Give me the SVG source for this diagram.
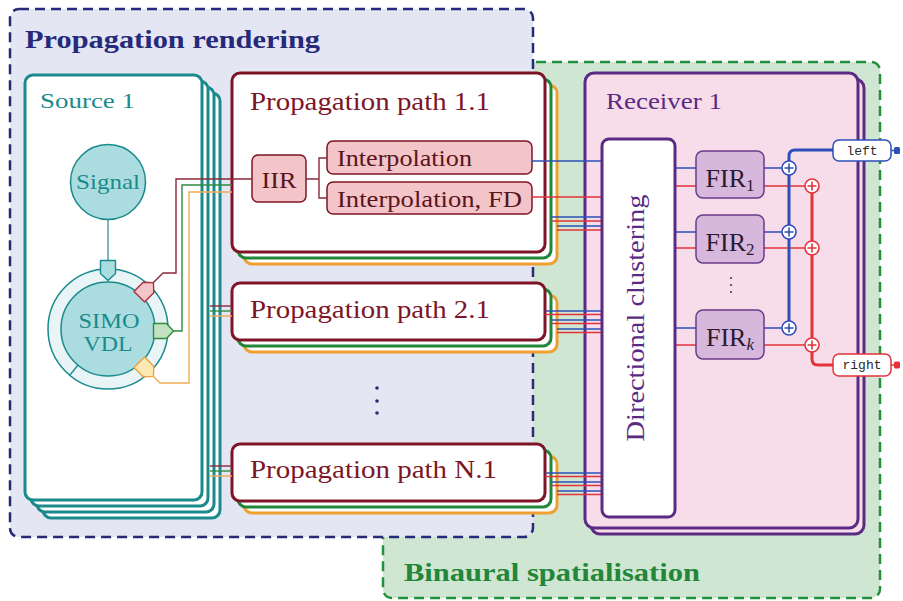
<svg xmlns="http://www.w3.org/2000/svg" width="903" height="601" viewBox="0 0 903 601">
<defs>
<style>
.t{font-family:"Liberation Serif","Times New Roman",serif}
.tb{font-family:"Liberation Serif","Times New Roman",serif;font-weight:bold;font-size:26px}
.srcL{fill:#ffffff;stroke:#1b8a8c;stroke-width:3}
.pM{fill:#ffffff;stroke:#7d1526;stroke-width:3}
.pG{fill:#ffffff;stroke:#22873a;stroke-width:3}
.pO{fill:#ffffff;stroke:#f0a030;stroke-width:3}
.rcv{fill:#f7dcea;stroke:#5b2a83;stroke-width:3}
.pink{fill:#f3c5c8;stroke:#7d1526;stroke-width:1.5}
.fir{fill:#d8b7dc;stroke:#6a3a8a;stroke-width:1.5}
.bl{stroke:#2c4fb8;stroke-width:1.4;fill:none}
.rd{stroke:#e2333b;stroke-width:1.4;fill:none}
.mr{stroke:#8a2a38;stroke-width:1.4;fill:none}
.gr{stroke:#2e8b40;stroke-width:1.4;fill:none}
.or{stroke:#efaa55;stroke-width:1.4;fill:none}
.lbl{font-family:"Liberation Mono","Courier New",monospace;font-size:13px;fill:#2a2a2a}
</style>
<path id="port" d="M-9.5,-7.5 H3.5 L10.5,0 L3.5,7.5 H-9.5 Z" stroke-linejoin="round"/>
<g id="plus"><circle r="7"/><path d="M-4.5,0H4.5M0,-4.5V4.5" fill="none"/></g>
</defs>

<rect x="0" y="0" width="903" height="601" fill="#ffffff"/>

<g id="binaural-region">
<rect x="383" y="62" width="497" height="536" rx="9" fill="#cfe7d2" stroke="#23903c" stroke-width="2.5" stroke-dasharray="10,6"/>
<text class="tb" x="404" y="581" fill="#23863a" textLength="296" lengthAdjust="spacingAndGlyphs">Binaural spatialisation</text>
</g>

<g id="propagation-region">
<rect x="10" y="9" width="523" height="528" rx="9" fill="#e4e6f3" stroke="#262a78" stroke-width="2.5" stroke-dasharray="10,6"/>
<text class="tb" x="25" y="48" fill="#262a78" textLength="295" lengthAdjust="spacingAndGlyphs">Propagation rendering</text>
<circle cx="377" cy="388" r="1.8" fill="#262a78"/>
<circle cx="377" cy="401" r="1.8" fill="#262a78"/>
<circle cx="377" cy="413" r="1.8" fill="#262a78"/>
</g>

<g id="source1">
<rect class="srcL" x="43" y="93" width="177" height="425" rx="8"/>
<rect class="srcL" x="37" y="87" width="177" height="425" rx="8"/>
<rect class="srcL" x="31" y="81" width="177" height="425" rx="8"/>
<rect class="srcL" x="25" y="75" width="177" height="425" rx="8"/>
<text class="t" x="40" y="108" font-size="22" fill="#1b8a8c" textLength="95" lengthAdjust="spacingAndGlyphs">Source 1</text>
</g>

<g id="signal">
<line x1="108" y1="219" x2="108" y2="263" stroke="#3b8f92" stroke-width="1.3"/>
<circle cx="108" cy="182" r="37.5" fill="#abdde0" stroke="#1b8a8c" stroke-width="1.5"/>
<text class="t" x="108" y="189" font-size="22" fill="#1b8a8c" text-anchor="middle" textLength="64" lengthAdjust="spacingAndGlyphs">Signal</text>
</g>

<g id="simo-vdl">
<circle cx="108" cy="329" r="60" fill="#e8f4f5" stroke="#1b8a8c" stroke-width="1.5"/>
<circle cx="108" cy="329" r="47" fill="#abdde0" stroke="#1b8a8c" stroke-width="1.5"/>
<line x1="78" y1="365" x2="70" y2="375" stroke="#1b8a8c" stroke-width="1.3"/>
<text class="t" x="109" y="328" font-size="21" fill="#1b8a8c" text-anchor="middle" textLength="61" lengthAdjust="spacingAndGlyphs">SIMO</text>
<text class="t" x="108" y="351" font-size="21" fill="#1b8a8c" text-anchor="middle" textLength="49" lengthAdjust="spacingAndGlyphs">VDL</text>
<use href="#port" transform="translate(108,270) rotate(90)" fill="#abdde0" stroke="#1b8a8c" stroke-width="1.4"/>
<use href="#port" transform="translate(146,290) rotate(-45)" fill="#f3c5c8" stroke="#a8303f" stroke-width="1.4"/>
<use href="#port" transform="translate(163,331)" fill="#c2e2c3" stroke="#2e8b40" stroke-width="1.4"/>
<use href="#port" transform="translate(146,369) rotate(45)" fill="#fbe9b5" stroke="#efa040" stroke-width="1.4"/>
</g>

<g id="path-1-1">
<rect class="pO" x="244" y="85" width="313" height="179" rx="8"/>
<rect class="pG" x="238" y="79" width="313" height="179" rx="8"/>
<rect class="pM" x="232" y="73" width="313" height="179" rx="8"/>
<text class="t" x="250" y="110" font-size="26" fill="#7d1526" textLength="240" lengthAdjust="spacingAndGlyphs">Propagation path 1.1</text>
</g>

<g id="iir">
<rect class="pink" x="252" y="155" width="54" height="47" rx="6"/>
<text class="t" x="279" y="188" font-size="24" fill="#5a1420" text-anchor="middle" textLength="35" lengthAdjust="spacingAndGlyphs">IIR</text>
</g>
<g id="interpolation">
<rect class="pink" x="327" y="141" width="205" height="33" rx="6"/>
<text class="t" x="337" y="166" font-size="23" fill="#5a1420" textLength="135" lengthAdjust="spacingAndGlyphs">Interpolation</text>
</g>
<g id="interpolation-fd">
<rect class="pink" x="327" y="182" width="205" height="32" rx="6"/>
<text class="t" x="337" y="207" font-size="23" fill="#5a1420" textLength="185" lengthAdjust="spacingAndGlyphs">Interpolation, FD</text>
</g>

<g id="path-2-1">
<rect class="pO" x="244" y="295" width="313" height="57" rx="8"/>
<rect class="pG" x="238" y="289" width="313" height="57" rx="8"/>
<rect class="pM" x="232" y="283" width="313" height="57" rx="8"/>
<text class="t" x="250" y="318" font-size="26" fill="#7d1526" textLength="240" lengthAdjust="spacingAndGlyphs">Propagation path 2.1</text>
</g>

<g id="path-n-1">
<rect class="pO" x="244" y="456" width="313" height="57" rx="8"/>
<rect class="pG" x="238" y="450" width="313" height="57" rx="8"/>
<rect class="pM" x="232" y="444" width="313" height="57" rx="8"/>
<text class="t" x="250" y="478" font-size="26" fill="#7d1526" textLength="247" lengthAdjust="spacingAndGlyphs">Propagation path N.1</text>
</g>

<g id="receiver1">
<rect class="rcv" x="591" y="79" width="273" height="455" rx="9"/>
<rect class="rcv" x="585" y="73" width="273" height="455" rx="9"/>
<text class="t" x="606" y="109" font-size="24" fill="#5b2a83" textLength="116" lengthAdjust="spacingAndGlyphs">Receiver 1</text>
<circle cx="731" cy="278" r="1.1" fill="#444"/>
<circle cx="731" cy="285" r="1.1" fill="#444"/>
<circle cx="731" cy="292" r="1.1" fill="#444"/>
</g>

<g id="connectors">
<path class="mr" d="M153,283 L163,273 H176 V179 H252"/>
<path class="gr" d="M173,331 H182 V185 H232"/>
<path class="or" d="M153,376 L160,383 H189 V192 H232"/>
<path class="mr" d="M210,306 H232"/>
<path class="gr" d="M210,311 H232"/>
<path class="or" d="M210,316 H232"/>
<path class="mr" d="M210,466 H232"/>
<path class="gr" d="M210,471 H232"/>
<path class="or" d="M210,476 H232"/>
<path class="mr" d="M306,179 H319 M327,158 H319 V198 H327"/>
<path class="bl" d="M532,161 H602"/>
<path class="rd" d="M532,197 H602"/>
<path class="bl" d="M551,217 H602"/>
<path class="rd" d="M551,221 H602"/>
<path class="bl" d="M557,226 H602"/>
<path class="rd" d="M557,230 H602"/>
<path class="bl" d="M545,311 H602"/>
<path class="rd" d="M545,314.5 H602"/>
<path class="bl" d="M551,320 H602"/>
<path class="rd" d="M551,323.5 H602"/>
<path class="bl" d="M557,329 H602"/>
<path class="rd" d="M557,332.5 H602"/>
<path class="bl" d="M545,473 H602"/>
<path class="rd" d="M545,476.5 H602"/>
<path class="bl" d="M551,482 H602"/>
<path class="rd" d="M551,485.5 H602"/>
<path class="bl" d="M557,491 H602"/>
<path class="rd" d="M557,494.5 H602"/>
<path class="bl" d="M675,168 H696 M675,232 H696 M675,328 H696"/>
<path class="rd" d="M675,186 H696 M675,248 H696 M675,345 H696"/>
<path class="bl" d="M764,168 H782 M764,232 H782 M764,328 H782"/>
<path class="rd" d="M764,186 H805 M764,248 H805 M764,345 H805"/>
<path d="M789,328 V156 Q789,150 795,150 H833" fill="none" stroke="#2c4fb8" stroke-width="3"/>
<path d="M812,186 V359 Q812,365 818,365 H833" fill="none" stroke="#e2333b" stroke-width="3"/>
<path d="M891,150.5 H895" stroke="#2c4fb8" stroke-width="1.5"/>
<path d="M891,365 H895" stroke="#e2333b" stroke-width="1.5"/>
</g>

<g id="directional-clustering">
<rect x="602" y="139" width="73" height="378" rx="7" fill="#ffffff" stroke="#5b2a83" stroke-width="3"/>
<text class="t" transform="translate(644,318) rotate(-90)" font-size="26" fill="#5b2a83" text-anchor="middle" textLength="247" lengthAdjust="spacingAndGlyphs">Directional clustering</text>
</g>

<g id="fir1">
<rect class="fir" x="696" y="151" width="68" height="47" rx="7"/>
<text class="t" x="730" y="187" font-size="26" fill="#2a1a30" text-anchor="middle">FIR<tspan font-size="17" dy="4">1</tspan></text>
</g>
<g id="fir2">
<rect class="fir" x="696" y="215" width="68" height="48" rx="7"/>
<text class="t" x="730" y="251" font-size="26" fill="#2a1a30" text-anchor="middle">FIR<tspan font-size="17" dy="4">2</tspan></text>
</g>
<g id="firk">
<rect class="fir" x="696" y="310" width="68" height="49" rx="7"/>
<text class="t" x="730" y="346" font-size="26" fill="#2a1a30" text-anchor="middle">FIR<tspan font-size="17" dy="4" font-style="italic">k</tspan></text>
</g>

<g id="sums-left">
<use href="#plus" x="789" y="168" fill="#ffffff" stroke="#2c4fb8" stroke-width="1.6"/>
<use href="#plus" x="789" y="232" fill="#ffffff" stroke="#2c4fb8" stroke-width="1.6"/>
<use href="#plus" x="789" y="328" fill="#ffffff" stroke="#2c4fb8" stroke-width="1.6"/>
</g>
<g id="sums-right">
<use href="#plus" x="812" y="186" fill="#ffffff" stroke="#e2333b" stroke-width="1.6"/>
<use href="#plus" x="812" y="248" fill="#ffffff" stroke="#e2333b" stroke-width="1.6"/>
<use href="#plus" x="812" y="345" fill="#ffffff" stroke="#e2333b" stroke-width="1.6"/>
</g>

<g id="out-left">
<rect x="833" y="140" width="58" height="21" rx="6" fill="#ffffff" stroke="#2c4fb8" stroke-width="1.5"/>
<rect x="894" y="147" width="6" height="7" rx="1.5" fill="#2c4fb8"/>
<text class="lbl" x="862" y="155" text-anchor="middle">left</text>
</g>
<g id="out-right">
<rect x="833" y="354" width="58" height="22" rx="6" fill="#ffffff" stroke="#e2333b" stroke-width="1.5"/>
<rect x="894" y="361.5" width="6" height="7" rx="1.5" fill="#e2333b"/>
<text class="lbl" x="862" y="369" text-anchor="middle">right</text>
</g>
</svg>
